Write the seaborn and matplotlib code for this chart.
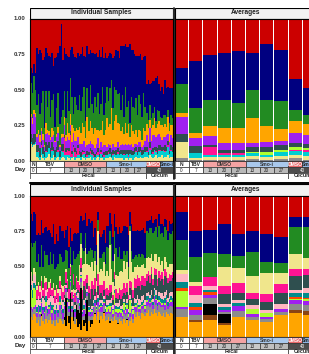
import numpy as np
import pandas as pd
import matplotlib
matplotlib.use("Agg")
import matplotlib.pyplot as plt
from matplotlib.patches import Rectangle
import seaborn as sns

W, H = 309, 354

# ---- sample layout ----
group_sizes = [4, 18, 10, 9, 9, 9, 9, 8, 9, 9]   # N, TBV, DMSO 13/20/27, Smo-i 13/20/27, DMSO 40, Smo-i 40

treat_labels = ["N", "TBV", "DMSO", "Smo-i", "DMSO", "Smo-i"]
treat_groups = [[0], [1], [2, 3, 4], [5, 6, 7], [8], [9]]
treat_colors = ["white", "white", "#f4a3a3", "#a9c8ec", "#e8686a", "#8fb5e3"]
treat_text = ["#222222", "#222222", "#333333", "#333333", "white", "#222222"]

day_labels = ["0", "7", "13", "20", "27", "13", "20", "27", "40"]
day_groups = [[0], [1], [2], [3], [4], [5], [6], [7], [8, 9]]
day_colors = ["white", "white", "#c8c8c8", "#c0c0c0", "#b8b8b8", "#c8c8c8", "#c0c0c0", "#b8b8b8", "#4d4d4d"]

tissue_labels = ["Fecal", "Cecum"]
tissue_groups = [[0, 1, 2, 3, 4, 5, 6, 7], [8, 9]]

pal = {
    "red": "#cc0000", "navy": "#000080", "green": "#228b22", "orange": "#ffa500",
    "purple": "#a020f0", "slate": "#2f4f4f", "yellow": "#f0e68c", "cyan": "#00ced1",
    "hotpink": "#ff1493", "greenyellow": "#adff2f", "grey": "#8c8c8c",
    "lightpink": "#ffb6c1", "teal": "#008b8b", "orangered": "#ff4500",
    "brown": "#8b4513", "black": "#000000",
}

# ---- top chart, individual samples (percent) ----
top_ind_names = ["yellow", "cyan", "hotpink", "slate", "purple", "orange", "green", "navy"]
top_yellow = [12, 10, 11, 12,
              3, 2, 1, 4, 2, 1, 2, 3, 5, 1, 2, 4, 1, 2, 3, 1, 2, 3,
              2, 1, 3, 2, 1, 2, 3, 1, 2, 2,
              2, 1, 3, 2, 1, 2, 2, 3, 1,
              2, 1, 2, 3, 1, 2, 2, 1, 2,
              2, 2, 3, 2, 1, 3, 2, 2, 2,
              2, 2, 1, 2, 2, 1, 2, 2, 1,
              2, 3, 2, 2, 3, 2, 2, 3,
              3, 2, 4, 3, 2, 3, 4, 2, 3,
              3, 4, 2, 3, 3, 4, 2, 3, 3]
top_cyan = [1, 1, 1, 1,
            3, 4, 2, 5, 3, 2, 4, 3, 4, 2, 5, 3, 2, 4, 3, 2, 5, 3,
            2, 3, 1, 2, 2, 1, 3, 2, 1, 2,
            2, 2, 1, 3, 2, 1, 2, 2, 3,
            1, 2, 2, 1, 2, 3, 1, 2, 2,
            2, 3, 2, 1, 3, 2, 2, 3, 2,
            3, 2, 3, 2, 3, 2, 3, 2, 3,
            3, 3, 2, 4, 3, 2, 3, 3,
            3, 2, 4, 2, 3, 5, 2, 3, 4,
            4, 3, 5, 3, 4, 6, 3, 4, 3]
top_pink = [0, 0, 0, 0,
            0, 1, 0, 2, 0, 0, 1, 0, 0, 0, 1, 0, 0, 0, 2, 0, 0, 1,
            12, 2, 4, 3, 15, 2, 4, 3, 2, 5,
            1, 0, 2, 1, 0, 1, 0, 2, 1,
            1, 0, 1, 2, 0, 1, 0, 1, 0,
            0, 1, 0, 0, 1, 0, 0, 1, 0,
            0, 0, 1, 0, 0, 1, 0, 0, 0,
            0, 1, 0, 0, 1, 0, 0, 0,
            1, 0, 1, 0, 1, 0, 1, 0, 1,
            1, 0, 1, 1, 0, 1, 0, 1, 0]
top_slate = [6, 5, 7, 6,
             5, 4, 6, 3, 5, 4, 6, 5, 4, 6, 5, 3, 5, 4, 6, 4, 5, 5,
             2, 3, 1, 2, 3, 2, 1, 3, 2, 2,
             2, 3, 2, 1, 2, 3, 2, 2, 3,
             2, 2, 1, 3, 2, 2, 1, 2, 3,
             3, 2, 4, 3, 3, 2, 4, 3, 3,
             3, 4, 3, 4, 3, 4, 3, 4, 3,
             4, 3, 3, 4, 3, 4, 3, 4,
             3, 2, 4, 3, 3, 2, 3, 4, 3,
             3, 3, 2, 4, 3, 3, 2, 3, 4]
top_purple = [12, 10, 14, 12,
              6, 8, 4, 7, 5, 3, 6, 9, 5, 6, 4, 8, 5, 7, 6, 3, 4, 5,
              7, 5, 8, 6, 4, 6, 9, 5, 7, 6,
              5, 6, 4, 7, 5, 4, 6, 5, 4,
              5, 4, 6, 7, 4, 5, 6, 5, 4,
              3, 4, 2, 3, 4, 3, 2, 4, 3,
              3, 4, 3, 4, 3, 4, 3, 4, 3,
              3, 2, 4, 3, 3, 2, 3, 4,
              8, 7, 10, 6, 9, 8, 7, 9, 8,
              6, 5, 7, 6, 8, 5, 6, 7, 6]
top_orange = [2, 4, 3, 3,
              2, 3, 5, 2, 4, 1, 8, 2, 3, 2, 6, 3, 1, 2, 4, 1, 3, 2,
              6, 4, 10, 5, 8, 12, 3, 7, 9, 5,
              12, 8, 15, 10, 6, 20, 9, 14, 11,
              8, 14, 10, 6, 12, 9, 18, 7, 11,
              20, 12, 15, 28, 10, 18, 22, 14, 16,
              10, 12, 8, 15, 9, 14, 6, 13, 11,
              7, 10, 6, 9, 8, 5, 12, 7,
              8, 10, 6, 9, 7, 12, 6, 8, 9,
              8, 10, 7, 9, 6, 12, 8, 7, 9]
top_green = [22, 18, 24, 16,
             20, 25, 15, 18, 30, 12, 22, 16, 28, 14, 20, 26, 10, 18, 24, 15, 12, 17,
             18, 12, 22, 15, 25, 20, 10, 24, 16, 14,
             22, 15, 18, 28, 12, 20, 16, 25, 17,
             15, 22, 16, 26, 12, 18, 24, 14, 19,
             22, 18, 25, 20, 15, 24, 18, 20, 22,
             15, 22, 12, 25, 18, 16, 10, 20, 17,
             18, 22, 15, 24, 19, 16, 25, 17,
             8, 6, 10, 7, 9, 8, 5, 10, 7,
             6, 5, 8, 6, 7, 5, 6, 7, 5]
top_navy = [10, 14, 8, 12,
            40, 28, 45, 35, 22, 50, 30, 38, 25, 42, 33, 20, 48, 36, 28, 55, 65, 35,
            30, 45, 25, 38, 20, 35, 42, 28, 33, 40,
            28, 40, 35, 22, 45, 30, 38, 25, 36,
            42, 30, 38, 25, 45, 33, 28, 40, 35,
            20, 32, 25, 18, 35, 22, 28, 30, 24,
            45, 35, 50, 30, 42, 38, 55, 33, 40,
            38, 30, 42, 28, 35, 40, 25, 36,
            20, 28, 15, 25, 22, 18, 30, 24, 19,
            18, 22, 15, 25, 20, 16, 24, 19, 21]

# ---- top chart, averages (percent) ----
avg_top_names = ["grey", "yellow", "cyan", "hotpink", "greenyellow", "slate",
                 "purple", "orange", "green", "navy", "red"]
avg_top_grey = [2, 1, 1, 1, 1, 1.5, 1, 1.5, 1.9, 1]
avg_top_yellow = [11, 1, 2, 2, 2, 2, 1.5, 2, 2.5, 2.5]
avg_top_cyan = [0, 3.5, 1.5, 1, 1.5, 2, 2, 3, 2.5, 3]
avg_top_pink = [0, 0, 5.5, 1.5, 1, 0, 0, 0, 1, 1]
avg_top_gy = [0, 0, 0, 0, 0, 1, 2, 1, 2, 1.5]
avg_top_slate = [6, 5, 1.4, 2, 2, 3, 3.5, 3.5, 2.6, 3]
avg_top_purple = [12, 6, 6, 5, 5, 3.3, 3.5, 3, 7.5, 6]
avg_top_orange = [3, 3, 7.5, 11, 10.5, 17, 11, 8, 8, 8]
avg_top_green = [20, 18, 18, 19, 18, 20, 18, 19, 7.5, 6]
avg_top_navy = [11, 33, 32, 33.5, 36, 26, 39.5, 35, 22, 19]
avg_top_red = [35, 30, 26, 24, 23, 24, 18, 22, 42.5, 49]

# ---- bottom chart, individual samples (percent) ----
bot_ind_names = ["orange", "black", "grey", "purple", "greenyellow", "teal",
                 "lightpink", "slate", "hotpink", "yellow", "green", "navy"]
bot_orange = [14, 12, 16, 15,
              10, 12, 8, 15, 11, 9, 13, 10, 12, 14, 9, 11, 8, 12, 10, 13, 11, 9,
              12, 8, 15, 10, 6, 14, 11, 9, 13, 7,
              9, 5, 12, 8, 10, 4, 11, 7, 9,
              14, 16, 12, 18, 10, 15, 13, 17, 11,
              12, 14, 10, 13, 11, 15, 12, 9, 13,
              11, 9, 13, 10, 12, 8, 11, 14, 10,
              16, 14, 18, 15, 13, 17, 16, 15,
              17, 19, 15, 18, 16, 20, 17, 15, 18,
              16, 15, 17, 14, 18, 16, 15, 17, 16]
bot_black = [0, 0, 0, 0,
             0, 0, 0, 1, 0, 0, 0, 0, 0, 0, 0, 0, 0, 0, 0, 0, 0, 0,
             2, 20, 0, 5, 25, 0, 8, 0, 10, 12,
             8, 30, 0, 4, 6, 22, 0, 5, 3,
             0, 1, 0, 0, 2, 0, 0, 1, 0,
             0, 0, 1, 0, 0, 0, 0, 1, 0,
             0, 0, 0, 0, 1, 0, 0, 0, 0,
             0, 0, 0, 0, 0, 0, 0, 0,
             0, 0, 0, 0, 0, 0, 0, 0, 0,
             0, 0, 0, 0, 0, 0, 0, 0, 0]
bot_grey = [5, 6, 4, 5,
            4, 5, 6, 3, 5, 4, 6, 5, 4, 5, 3, 6, 4, 5, 4, 6, 5, 4,
            5, 4, 6, 3, 5, 4, 6, 5, 4, 5,
            3, 4, 2, 3, 5, 3, 4, 2, 3,
            4, 5, 3, 4, 6, 3, 5, 4, 4,
            4, 3, 5, 4, 3, 5, 4, 4, 3,
            3, 4, 3, 5, 3, 4, 3, 4, 3,
            3, 4, 3, 3, 4, 3, 4, 3,
            5, 4, 6, 5, 4, 5, 6, 4, 5,
            5, 6, 4, 5, 5, 4, 6, 5, 5]
bot_purple = [2, 2, 1, 3,
              3, 4, 2, 5, 3, 4, 3, 2, 4, 3, 5, 3, 4, 2, 3, 4, 3, 4,
              3, 2, 4, 2, 3, 2, 3, 4, 2, 3,
              2, 3, 2, 4, 3, 2, 3, 2, 3,
              3, 2, 4, 3, 2, 3, 4, 2, 3,
              2, 3, 2, 4, 2, 3, 2, 3, 2,
              3, 2, 3, 2, 4, 2, 3, 2, 3,
              2, 3, 2, 2, 3, 2, 3, 2,
              3, 4, 3, 2, 3, 4, 3, 3, 2,
              3, 2, 3, 4, 3, 2, 3, 3, 4]
bot_gy = [12, 8, 14, 10,
          1, 0, 2, 1, 0, 1, 3, 0, 1, 0, 2, 1, 0, 1, 0, 2, 1, 0,
          1, 0, 1, 0, 1, 0, 1, 0, 1, 0,
          0, 1, 0, 1, 0, 0, 1, 0, 1,
          1, 0, 1, 0, 1, 1, 0, 1, 0,
          3, 2, 4, 1, 3, 8, 2, 3, 2,
          2, 3, 5, 2, 3, 2, 9, 2, 3,
          1, 2, 1, 1, 2, 1, 1, 2,
          1, 0, 1, 1, 0, 1, 1, 0, 1,
          1, 1, 0, 1, 1, 0, 1, 1, 0]
bot_teal = [4, 5, 3, 4,
            3, 2, 4, 3, 2, 3, 4, 3, 2, 3, 4, 2, 3, 3, 2, 4, 3, 3,
            2, 1, 2, 2, 1, 2, 1, 2, 2, 1,
            2, 1, 2, 3, 2, 1, 2, 2, 1,
            2, 2, 1, 3, 2, 2, 1, 2, 2,
            2, 1, 2, 2, 1, 2, 2, 1, 2,
            1, 2, 1, 2, 1, 2, 1, 2, 1,
            2, 1, 2, 2, 1, 2, 2, 1,
            3, 2, 3, 4, 2, 3, 3, 2, 3,
            3, 3, 2, 4, 3, 3, 2, 3, 3]
bot_lightpink = [6, 5, 7, 6,
                 5, 6, 4, 5, 7, 5, 4, 6, 5, 4, 6, 5, 5, 4, 6, 5, 4, 5,
                 3, 2, 4, 3, 2, 3, 4, 3, 2, 3,
                 2, 2, 1, 3, 2, 2, 1, 2, 2,
                 2, 3, 2, 2, 3, 2, 3, 2, 2,
                 3, 3, 2, 4, 3, 3, 2, 3, 4,
                 2, 3, 2, 2, 3, 2, 3, 2, 2,
                 4, 3, 4, 4, 3, 4, 4, 3,
                 2, 3, 2, 3, 2, 2, 3, 2, 3,
                 3, 4, 3, 4, 3, 3, 4, 3, 4]
bot_slate = [0, 0, 0, 0,
             1, 0, 1, 0, 1, 2, 0, 1, 0, 1, 0, 1, 0, 1, 0, 1, 0, 1,
             2, 1, 3, 2, 1, 2, 3, 2, 1, 2,
             6, 3, 8, 10, 5, 4, 9, 7, 12,
             4, 5, 3, 6, 4, 5, 3, 4, 5,
             4, 3, 5, 4, 3, 5, 4, 3, 4,
             5, 6, 4, 7, 5, 6, 5, 7, 6,
             7, 8, 6, 9, 7, 8, 6, 10,
             9, 11, 8, 12, 10, 9, 11, 10, 10,
             9, 10, 8, 11, 9, 10, 9, 8, 10]
bot_hotpink = [0, 0, 0, 0,
               6, 8, 5, 7, 4, 10, 6, 5, 7, 8, 4, 6, 5, 7, 6, 5, 8, 6,
               6, 8, 5, 7, 6, 5, 8, 6, 7, 6,
               5, 7, 6, 4, 8, 6, 5, 7, 6,
               7, 8, 6, 9, 7, 6, 8, 7, 7,
               5, 4, 6, 5, 4, 5, 6, 4, 5,
               6, 5, 7, 5, 6, 4, 5, 6, 5,
               7, 6, 8, 6, 7, 6, 7, 6,
               5, 4, 6, 5, 4, 5, 4, 5, 5,
               4, 5, 4, 5, 4, 4, 5, 4, 4]
bot_yellow = [3, 2, 4, 3,
              3, 2, 4, 3, 2, 5, 3, 2, 4, 3, 2, 3, 4, 2, 3, 3, 2, 4,
              1, 2, 1, 0, 2, 1, 0, 2, 1, 1,
              14, 10, 18, 12, 22, 8, 15, 16, 13,
              10, 12, 8, 30, 9, 11, 10, 13, 9,
              12, 10, 28, 11, 9, 13, 10, 12, 11,
              14, 12, 16, 13, 15, 11, 35, 14, 13,
              8, 9, 7, 8, 10, 8, 9, 7,
              11, 10, 12, 9, 13, 10, 11, 12, 10,
              7, 8, 6, 9, 7, 8, 7, 8, 6]
bot_green = [21, 24, 18, 22,
             17, 20, 14, 22, 15, 18, 16, 24, 12, 19, 17, 21, 15, 13, 18, 16, 20, 17,
             17, 14, 20, 15, 12, 18, 16, 22, 14, 19,
             10, 8, 12, 9, 11, 7, 10, 13, 9,
             9, 7, 11, 8, 10, 8, 12, 7, 9,
             17, 20, 10, 18, 15, 16, 19, 14, 18,
             8, 9, 7, 10, 8, 9, 4, 8, 9,
             7, 8, 6, 9, 7, 8, 6, 7,
             19, 17, 21, 18, 20, 16, 19, 18, 22,
             22, 20, 24, 21, 23, 19, 22, 21, 23]
bot_navy = [20, 18, 22, 19,
            19, 15, 22, 18, 24, 16, 20, 17, 25, 14, 19, 21, 18, 23, 16, 20, 18, 22,
            16, 14, 18, 15, 13, 17, 12, 19, 16, 15,
            21, 12, 19, 22, 14, 20, 23, 18, 20,
            15, 16, 14, 6, 17, 15, 14, 16, 15,
            15, 16, 13, 14, 17, 12, 15, 16, 14,
            19, 20, 18, 21, 17, 22, 10, 19, 20,
            18, 17, 19, 16, 18, 17, 19, 18,
            7, 8, 6, 9, 7, 8, 6, 7, 8,
            7, 6, 8, 6, 7, 6, 8, 7, 6]

# ---- bottom chart, averages (percent) ----
avg_bot_names = ["orange", "brown", "black", "grey", "purple", "greenyellow", "orangered",
                 "teal", "lightpink", "slate", "hotpink", "yellow", "green", "navy", "red"]
avg_bot_orange = [14.4, 10.9, 12, 9, 14.4, 12, 10.9, 15.6, 17.2, 15.6]
avg_bot_brown = [0, 1.5, 3.5, 1, 0, 0, 0, 0, 2, 2.6]
avg_bot_black = [0, 0, 7.8, 6.4, 0, 0, 0, 0, 0, 0]
avg_bot_grey = [5.2, 3.2, 4.7, 1.5, 4, 2.5, 2, 2, 4, 4]
avg_bot_purple = [1.9, 3.5, 1.5, 2, 3.5, 2, 1.5, 2, 3.1, 3]
avg_bot_gy = [11.2, 0, 0, 0, 0, 3, 2.5, 0, 0.8, 1]
avg_bot_orangered = [2.3, 1.9, 2.4, 0, 0, 0, 0, 0, 1, 1]
avg_bot_teal = [3.8, 3.3, 1.4, 2, 1.9, 0, 0, 0, 2.8, 3.1]
avg_bot_lightpink = [5.9, 5.4, 3.1, 1.9, 2.4, 3.1, 2.4, 3.8, 2.4, 3.5]
avg_bot_slate = [0, 0, 0, 7.1, 4.7, 4, 5.9, 7.6, 10, 9.4]
avg_bot_hotpink = [0, 6.4, 6.4, 5.9, 7.1, 4.7, 5.4, 6.6, 4.7, 4.3]
avg_bot_yellow = [2.8, 3.1, 0, 14.2, 10.6, 11.9, 14.7, 8, 10.9, 7.5]
avg_bot_green = [21.3, 17.3, 17, 9.5, 8.7, 17.2, 8.2, 7.1, 18.9, 21.7]
avg_bot_navy = [19.6, 18.7, 16.1, 21.2, 15.4, 14.7, 19.4, 18, 7.5, 6.6]
avg_bot_red = [11.6, 24.8, 24.1, 20.6, 27.2, 24.8, 27.2, 29.3, 14.7, 14.7]


def individual_df(names, cols):
    mat = np.array(cols, dtype=float).T
    rest = 100 - mat.sum(axis=1)
    mat = np.column_stack([mat, rest]) / 100
    frame = pd.DataFrame(mat, columns=names + ["red"])
    frame["sample"] = np.arange(len(frame))
    return frame.melt(id_vars="sample", var_name="taxon", value_name="value")


def average_df(names, cols):
    mat = np.array(cols, dtype=float).T
    mat = mat / mat.sum(axis=1, keepdims=True)
    frame = pd.DataFrame(mat, columns=names)
    frame["sample"] = np.arange(len(frame))
    return frame.melt(id_vars="sample", var_name="taxon", value_name="value")


top_ind = individual_df(top_ind_names, [top_yellow, top_cyan, top_pink, top_slate, top_purple,
                                        top_orange, top_green, top_navy])
top_avg = average_df(avg_top_names, [avg_top_grey, avg_top_yellow, avg_top_cyan, avg_top_pink,
                                     avg_top_gy, avg_top_slate, avg_top_purple, avg_top_orange,
                                     avg_top_green, avg_top_navy, avg_top_red])
bot_ind = individual_df(bot_ind_names, [bot_orange, bot_black, bot_grey, bot_purple, bot_gy,
                                        bot_teal, bot_lightpink, bot_slate, bot_hotpink,
                                        bot_yellow, bot_green, bot_navy])
bot_avg = average_df(avg_bot_names, [avg_bot_orange, avg_bot_brown, avg_bot_black, avg_bot_grey,
                                     avg_bot_purple, avg_bot_gy, avg_bot_orangered, avg_bot_teal,
                                     avg_bot_lightpink, avg_bot_slate, avg_bot_hotpink,
                                     avg_bot_yellow, avg_bot_green, avg_bot_navy, avg_bot_red])

sns.set_theme(style="white")
plt.rcParams["font.family"] = ["Liberation Sans", "DejaVu Sans"]

fig = plt.figure(figsize=(W / 100, H / 100), dpi=100)


def px_axes(x0, y0, x1, y1):
    return fig.add_axes([x0 / W, 1 - y1 / H, (x1 - x0) / W, (y1 - y0) / H])


def draw_stack(ax, df, order, shrink, n):
    # order is bottom -> top; seaborn puts the first hue level on top
    sns.histplot(data=df, x="sample", weights="value", hue="taxon", hue_order=order[::-1],
                 palette=pal, multiple="stack", discrete=True, shrink=shrink,
                 linewidth=0, alpha=1, legend=False, ax=ax)
    ax.set_xlim(-0.5, n - 0.5)
    ax.set_ylim(0, 1)
    ax.set_xticks([])
    ax.set_xlabel("")
    ax.set_ylabel("")
    for s in ax.spines.values():
        s.set_color("black")
        s.set_linewidth(0.8)


def draw_header(x0, y0, x1, y1, text):
    ax = px_axes(x0, y0, x1, y1)
    ax.set_xlim(0, 1)
    ax.set_ylim(0, 1)
    ax.axis("off")
    ax.add_patch(Rectangle((0, 0), 1, 1, facecolor="#f2f2f2", edgecolor="black", lw=0.8))
    ax.text(0.5, 0.5, text, ha="center", va="center", fontsize=4.8, fontweight="bold", color="#222222")


def draw_annot(x0, y0, x1, y1, edges, n):
    ax = px_axes(x0, y0, x1, y1)
    ax.set_xlim(-0.5, n - 0.5)
    ax.set_ylim(0, 3)
    ax.axis("off")

    def span(groups):
        return edges[groups[0]] - 0.5, edges[groups[-1] + 1] - 0.5

    for lab, grp, fc, tc in zip(treat_labels, treat_groups, treat_colors, treat_text):
        a, b = span(grp)
        ax.add_patch(Rectangle((a, 2), b - a, 1, facecolor=fc, edgecolor="#333333", lw=0.5))
        ax.text((a + b) / 2, 2.5, lab, ha="center", va="center", fontsize=3.6, color=tc,
                fontweight="bold", clip_on=True)
    for lab, grp, fc in zip(day_labels, day_groups, day_colors):
        a, b = span(grp)
        ax.add_patch(Rectangle((a, 1), b - a, 1, facecolor=fc, edgecolor="#333333", lw=0.5))
        ax.text((a + b) / 2, 1.5, lab, ha="center", va="center", fontsize=3.3,
                color="white" if lab == "40" else "#222222", clip_on=True)
    for lab, grp in zip(tissue_labels, tissue_groups):
        a, b = span(grp)
        ax.add_patch(Rectangle((a, 0), b - a, 1, facecolor="white", edgecolor="#333333", lw=0.5))
        ax.text((a + b) / 2, 0.5, lab, ha="center", va="center", fontsize=3.8,
                fontweight="bold", color="#222222", clip_on=True)


ind_edges = np.concatenate([[0], np.cumsum(group_sizes)])
avg_edges = np.arange(len(group_sizes) + 1)
n_ind = int(ind_edges[-1])
n_avg = len(group_sizes)

LX0, LX1 = 30, 173.5
RX0, RX1 = 174.5, 316.5

charts = [
    dict(hdr=(7.5, 18.5), plot=(18.5, 161), ann=(161, 179), ind=top_ind, avg=top_avg,
         ind_order=top_ind_names + ["red"], avg_order=avg_top_names),
    dict(hdr=(183.5, 196), plot=(196, 337), ann=(337, 355), ind=bot_ind, avg=bot_avg,
         ind_order=bot_ind_names + ["red"], avg_order=avg_bot_names),
]

for c in charts:
    draw_header(LX0, c["hdr"][0], LX1, c["hdr"][1], "Individual Samples")
    draw_header(RX0, c["hdr"][0], RX1, c["hdr"][1], "Averages")

    axl = px_axes(LX0, c["plot"][0], LX1, c["plot"][1])
    draw_stack(axl, c["ind"], c["ind_order"], 1.0, n_ind)
    axl.set_yticks([0, 0.25, 0.5, 0.75, 1.0])
    axl.set_yticklabels(["0.00", "0.25", "0.50", "0.75", "1.00"], fontsize=4.3,
                        fontweight="bold", color="#333333")
    axl.tick_params(axis="y", length=0, pad=3.2)

    axr = px_axes(RX0, c["plot"][0], RX1, c["plot"][1])
    draw_stack(axr, c["avg"], c["avg_order"], 0.92, n_avg)
    axr.set_yticks([])

    draw_annot(LX0, c["ann"][0], LX1, c["ann"][1], ind_edges, n_ind)
    draw_annot(RX0, c["ann"][0], RX1, c["ann"][1], avg_edges, n_avg)

    day_y = c["ann"][0] + 9
    fig.text(26 / W, 1 - day_y / H, "Day", ha="right", va="center", fontsize=4.5,
             fontweight="bold", color="#222222")

# frame lines between panels and charts
fig.add_artist(plt.Line2D([30 / W, 1], [1 - 182.5 / H] * 2, color="black", lw=1.4))
for y0, y1 in [(7.5, 179), (183, 354)]:
    fig.add_artist(plt.Line2D([174 / W] * 2, [1 - y0 / H, 1 - y1 / H], color="black", lw=1.2))

fig.savefig("out.png", dpi=100)
